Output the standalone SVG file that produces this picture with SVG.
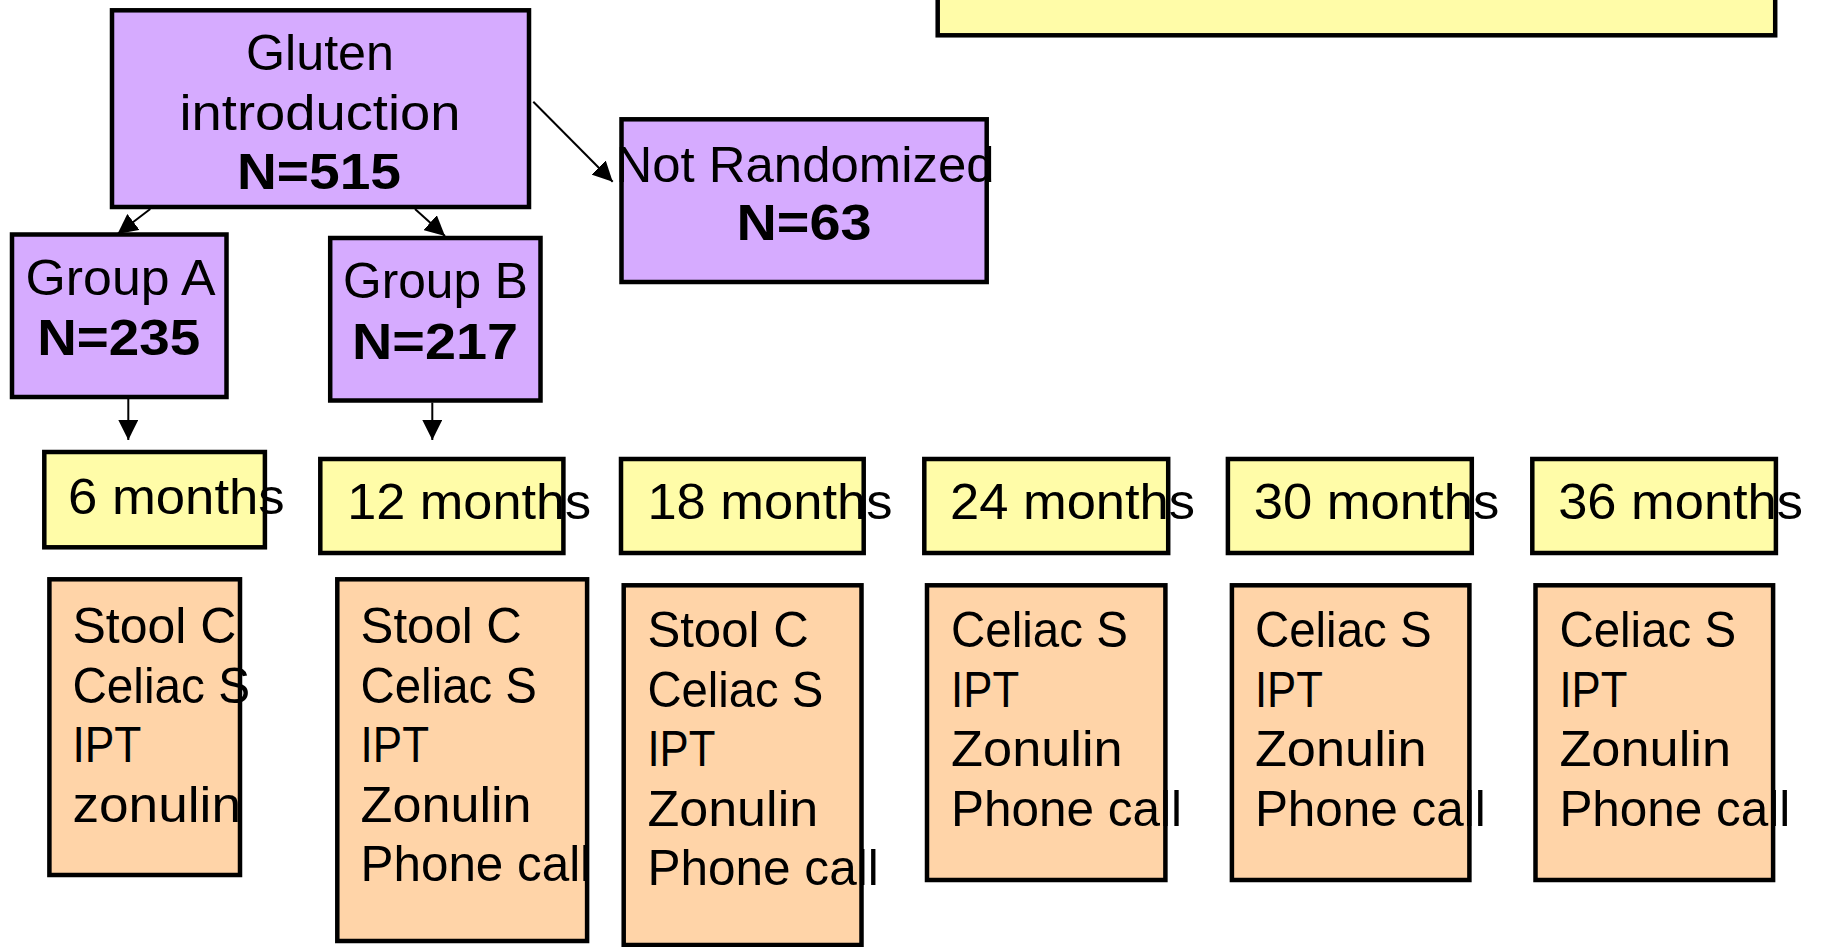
<svg xmlns="http://www.w3.org/2000/svg" width="1824" height="947" viewBox="0 0 1824 947">
<defs>
<style>
.p{fill:#d6abff;stroke:#000;stroke-width:4.5}
.y{fill:#fffca8;stroke:#000;stroke-width:4.5}
.o{fill:#ffd4a8;stroke:#000;stroke-width:4.5}
.t{font-family:"Liberation Sans",Arial,sans-serif;font-size:50px;fill:#000}
.m{text-anchor:middle}
.b{font-weight:bold}
.c{stroke:#000;stroke-width:2;fill:none;marker-end:url(#ah)}
</style>
<marker id="ah" markerUnits="userSpaceOnUse" markerWidth="20" markerHeight="20" viewBox="0 0 20 20" refX="20" refY="10" orient="auto">
<path d="M0,0 L20,10 L0,20 z" fill="#000"/>
</marker>
</defs>
<rect width="1824" height="947" fill="#fff"/>

<g id="top-box">
<rect class="y" x="937.7" y="-20" width="837.5" height="55.3"/>
</g>

<g id="connectors">
<line class="c" x1="150.3" y1="209" x2="117.5" y2="234"/>
<line class="c" x1="415" y1="209" x2="445" y2="236"/>
<line class="c" x1="533.3" y1="101.7" x2="612.7" y2="181.7"/>
<line class="c" x1="128.3" y1="399" x2="128.3" y2="440"/>
<line class="c" x1="432.3" y1="402.5" x2="432.3" y2="440"/>
</g>

<g id="gluten">
<rect class="p" x="112" y="10.3" width="417" height="196.7"/>
<text class="t m" x="320" y="70" textLength="148" lengthAdjust="spacingAndGlyphs">Gluten</text>
<text class="t m" x="320" y="130" textLength="281" lengthAdjust="spacingAndGlyphs">introduction</text>
<text class="t m b" x="319" y="189.3" textLength="164" lengthAdjust="spacingAndGlyphs">N=515</text>
</g>

<g id="not-randomized">
<rect class="p" x="621.5" y="119.3" width="365.2" height="162.7"/>
<text class="t m" x="805" y="181.7" textLength="379" lengthAdjust="spacingAndGlyphs">Not Randomized</text>
<text class="t m b" x="804" y="240" textLength="135" lengthAdjust="spacingAndGlyphs">N=63</text>
</g>

<g id="group-a">
<rect class="p" x="12" y="234.5" width="214.5" height="162.5"/>
<text class="t m" x="120.6" y="295" textLength="190" lengthAdjust="spacingAndGlyphs">Group A</text>
<text class="t m b" x="118.7" y="355" textLength="163" lengthAdjust="spacingAndGlyphs">N=235</text>
</g>

<g id="group-b">
<rect class="p" x="330.2" y="238" width="210.3" height="162.5"/>
<text class="t m" x="435.5" y="297.7" textLength="185" lengthAdjust="spacingAndGlyphs">Group B</text>
<text class="t m b" x="435" y="359.3" textLength="166" lengthAdjust="spacingAndGlyphs">N=217</text>
</g>

<g id="m6">
<rect class="y" x="44.3" y="452" width="220.6" height="95.3"/>
<text class="t" x="68" y="514" textLength="216.7" lengthAdjust="spacingAndGlyphs">6 months</text>
</g>
<g id="m12">
<rect class="y" x="320.3" y="459" width="243.1" height="94"/>
<text class="t" x="347.2" y="519" textLength="244" lengthAdjust="spacingAndGlyphs">12 months</text>
</g>
<g id="m18">
<rect class="y" x="621" y="459" width="242.7" height="94"/>
<text class="t" x="647.4" y="519" textLength="245" lengthAdjust="spacingAndGlyphs">18 months</text>
</g>
<g id="m24">
<rect class="y" x="924.3" y="459" width="243.9" height="94"/>
<text class="t" x="950" y="519" textLength="245" lengthAdjust="spacingAndGlyphs">24 months</text>
</g>
<g id="m30">
<rect class="y" x="1227.9" y="459" width="243.9" height="94"/>
<text class="t" x="1253.7" y="519" textLength="245.6" lengthAdjust="spacingAndGlyphs">30 months</text>
</g>
<g id="m36">
<rect class="y" x="1532.3" y="459" width="243.6" height="94"/>
<text class="t" x="1558.2" y="519" textLength="244.8" lengthAdjust="spacingAndGlyphs">36 months</text>
</g>

<g id="tests6">
<rect class="o" x="49.4" y="579.3" width="190.6" height="295.7"/>
<text class="t" x="72.4" y="643" textLength="164" lengthAdjust="spacingAndGlyphs">Stool C</text>
<text class="t" x="72.4" y="702.5" textLength="177.6" lengthAdjust="spacingAndGlyphs">Celiac S</text>
<text class="t" x="72.4" y="762" textLength="69" lengthAdjust="spacingAndGlyphs">IPT</text>
<text class="t" x="72.4" y="821.5" textLength="168.6" lengthAdjust="spacingAndGlyphs">zonulin</text>
</g>
<g id="tests12">
<rect class="o" x="337.3" y="579.3" width="249.8" height="361.7"/>
<text class="t" x="360.6" y="643" textLength="161.3" lengthAdjust="spacingAndGlyphs">Stool C</text>
<text class="t" x="360.6" y="702.5" textLength="176.3" lengthAdjust="spacingAndGlyphs">Celiac S</text>
<text class="t" x="360.6" y="762" textLength="68.4" lengthAdjust="spacingAndGlyphs">IPT</text>
<text class="t" x="360.6" y="821.5" textLength="171" lengthAdjust="spacingAndGlyphs">Zonulin</text>
<text class="t" x="360.6" y="881" textLength="230.5" lengthAdjust="spacingAndGlyphs">Phone call</text>
</g>
<g id="tests18">
<rect class="o" x="623.7" y="585.3" width="237.8" height="359.7"/>
<text class="t" x="647.4" y="647" textLength="161.3" lengthAdjust="spacingAndGlyphs">Stool C</text>
<text class="t" x="647.4" y="706.5" textLength="176" lengthAdjust="spacingAndGlyphs">Celiac S</text>
<text class="t" x="647.4" y="766" textLength="68" lengthAdjust="spacingAndGlyphs">IPT</text>
<text class="t" x="647.4" y="825.5" textLength="170.8" lengthAdjust="spacingAndGlyphs">Zonulin</text>
<text class="t" x="647.4" y="885" textLength="231.3" lengthAdjust="spacingAndGlyphs">Phone call</text>
</g>
<g id="tests24">
<rect class="o" x="927" y="585.3" width="238.4" height="294.7"/>
<text class="t" x="951.1" y="647" textLength="176.7" lengthAdjust="spacingAndGlyphs">Celiac S</text>
<text class="t" x="951.1" y="706.5" textLength="68" lengthAdjust="spacingAndGlyphs">IPT</text>
<text class="t" x="951.1" y="766" textLength="171.6" lengthAdjust="spacingAndGlyphs">Zonulin</text>
<text class="t" x="951.1" y="825.5" textLength="230.9" lengthAdjust="spacingAndGlyphs">Phone call</text>
</g>
<g id="tests30">
<rect class="o" x="1231.9" y="585.3" width="237.5" height="294.7"/>
<text class="t" x="1254.9" y="647" textLength="176.7" lengthAdjust="spacingAndGlyphs">Celiac S</text>
<text class="t" x="1254.9" y="706.5" textLength="68" lengthAdjust="spacingAndGlyphs">IPT</text>
<text class="t" x="1254.9" y="766" textLength="171.6" lengthAdjust="spacingAndGlyphs">Zonulin</text>
<text class="t" x="1254.9" y="825.5" textLength="230.9" lengthAdjust="spacingAndGlyphs">Phone call</text>
</g>
<g id="tests36">
<rect class="o" x="1535.5" y="585.3" width="237.6" height="294.7"/>
<text class="t" x="1559.4" y="647" textLength="176.7" lengthAdjust="spacingAndGlyphs">Celiac S</text>
<text class="t" x="1559.4" y="706.5" textLength="68" lengthAdjust="spacingAndGlyphs">IPT</text>
<text class="t" x="1559.4" y="766" textLength="171.6" lengthAdjust="spacingAndGlyphs">Zonulin</text>
<text class="t" x="1559.4" y="825.5" textLength="230.9" lengthAdjust="spacingAndGlyphs">Phone call</text>
</g>
</svg>
